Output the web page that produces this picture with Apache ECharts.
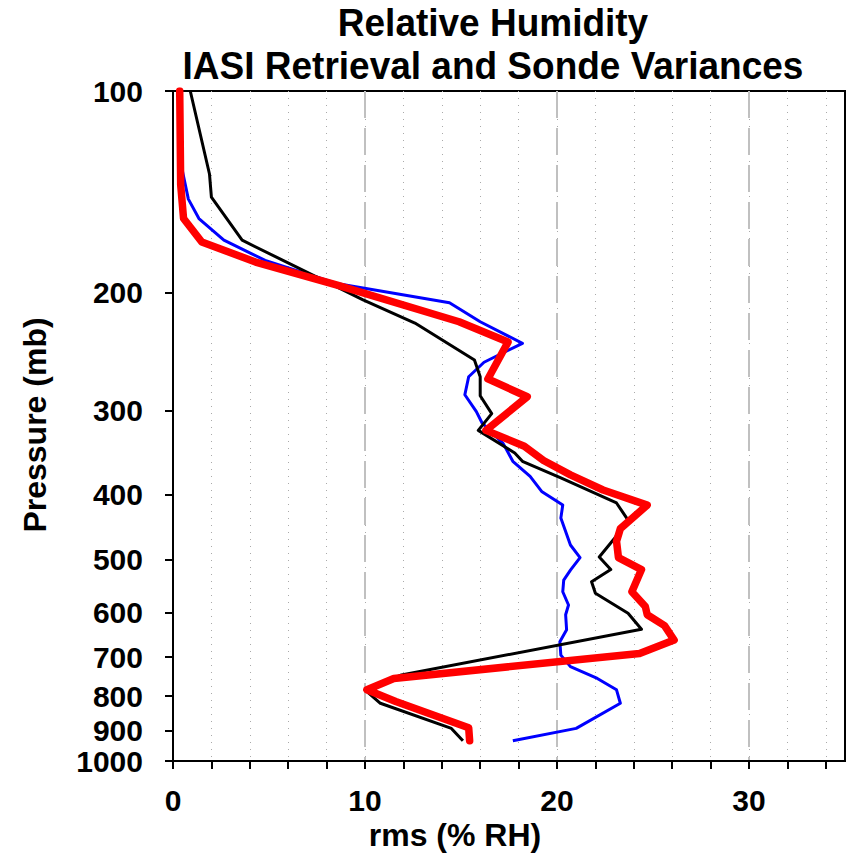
<!DOCTYPE html>
<html>
<head>
<meta charset="utf-8">
<script src="https://cdn.jsdelivr.net/npm/echarts@6/dist/echarts.min.js"></script>
<style>
html,body{margin:0;padding:0;background:#fff;}
#chart{width:850px;height:859px;}
</style>
</head>
<body>
<div id="chart"></div>
<script>
// ---- data (rms % RH vs pressure, mb) ----
const blackP = [100, 133, 144, 167, 205, 222, 252, 267, 285, 303, 321, 347, 357, 378, 412, 437, 465, 496, 518, 540, 562, 602, 636, 744, 783, 820, 894, 933];
const blackV = [0.9, 1.9, 2.0, 3.6, 9.9, 12.6, 15.7, 16.0, 16.0, 16.6, 15.9, 17.8, 18.2, 20.2, 23.1, 23.7, 23.0, 22.2, 22.8, 21.8, 22.0, 23.7, 24.4, 11.9, 10.0, 10.8, 14.5, 15.1];

const blueP = [100, 132, 145, 155, 167, 179, 194, 207, 221, 238, 254, 267, 284, 301, 313, 336, 357, 376, 396, 415, 434, 476, 497, 519, 537, 559, 585, 605, 637, 664, 695, 723, 753, 783, 820, 894, 933];
const blueV = [0.3, 0.5, 0.8, 1.35, 2.65, 4.8, 8.6, 14.4, 16.0, 18.2, 16.2, 15.4, 15.2, 15.8, 16.1, 17.2, 17.7, 18.6, 19.2, 20.3, 20.2, 20.7, 21.2, 20.7, 20.35, 20.3, 20.6, 20.45, 20.5, 20.15, 20.2, 20.7, 22.1, 23.1, 23.3, 21.0, 17.7];

const redP = [100, 138, 155, 168, 180, 195, 221, 237, 269, 286, 321, 339, 356, 374, 394, 415, 450, 470, 497, 518, 559, 588, 605, 628, 660, 691, 753, 783, 815, 892, 933];
const redV = [0.35, 0.4, 0.55, 1.5, 4.3, 8.6, 14.9, 17.45, 16.4, 18.45, 16.3, 18.3, 19.3, 20.7, 22.4, 24.7, 23.3, 23.1, 23.2, 24.4, 23.9, 24.6, 24.7, 25.6, 26.1, 24.3, 11.5, 10.1, 11.6, 15.4, 15.45];

const pressureTicks = [100, 200, 300, 400, 500, 600, 700, 800, 900, 1000];
const rmsLabels = [0, 10, 20, 30];
const rmsMinorTicks = [0, 2, 4, 6, 8, 10, 12, 14, 16, 18, 20, 22, 24, 26, 28, 30, 32, 34];
const rmsMajorLines = [10, 20, 30];

const titleLines = ['Relative Humidity', 'IASI Retrieval and Sonde Variances'];
const xName = 'rms (% RH)';
const yName = 'Pressure (mb)';

function pairs(v, p) { return v.map((x, i) => [x, p[i]]); }

const FONT = "'Liberation Sans', Arial, Helvetica, sans-serif";
const chart = echarts.init(document.getElementById('chart'), null, {renderer: 'svg'});

chart.setOption({
  animation: false,
  backgroundColor: '#fff',
  grid: {left: 173, top: 91, width: 672, height: 670, show: true, borderColor: '#000', borderWidth: 2, backgroundColor: 'transparent'},
  graphic: [
    {type: 'text', x: 493, y: 22.5, scaleY: 1.04, style: {text: titleLines[0], x: 0, y: 0, textAlign: 'center', textVerticalAlign: 'middle', font: 'bold 37px ' + FONT, fill: '#000'}},
    {type: 'text', x: 493, y: 65.5, scaleY: 1.04, style: {text: titleLines[1], x: 0, y: 0, textAlign: 'center', textVerticalAlign: 'middle', font: 'bold 37px ' + FONT, fill: '#000'}},
    {type: 'text', x: 455, y: 835, style: {text: xName, x: 0, y: 0, textAlign: 'center', textVerticalAlign: 'middle', font: 'bold 32px ' + FONT, fill: '#000'}},
    {type: 'text', rotation: Math.PI / 2, x: 35, y: 425, style: {text: yName, x: 0, y: 0, textAlign: 'center', textVerticalAlign: 'middle', font: 'bold 32px ' + FONT, fill: '#000'}}
  ],
  xAxis: [
    {
      type: 'value', min: 0, max: 35, position: 'bottom',
      axisLine: {show: true, onZero: false, lineStyle: {color: '#000', width: 2}},
      axisTick: {show: true, length: 8, customValues: rmsMinorTicks, lineStyle: {color: '#000', width: 2}},
      axisLabel: {show: true, customValues: rmsLabels, margin: 24, fontSize: 30, fontWeight: 'bold', fontFamily: FONT, color: '#000'},
      splitLine: {show: true, lineStyle: {color: '#aaaaaa', width: 1, type: [1, 6]}}
    },
    {
      type: 'value', min: 0, max: 35, position: 'bottom',
      axisLine: {show: false},
      axisTick: {show: false, customValues: rmsMajorLines},
      axisLabel: {show: false},
      splitLine: {show: true, lineStyle: {color: '#c0c0c0', width: 2, type: [27, 10]}}
    }
  ],
  yAxis: {
    type: 'log', logBase: 10, min: 100, max: 1000, inverse: true,
    axisLine: {show: true, onZero: false, lineStyle: {color: '#000', width: 2}},
    axisTick: {show: true, length: 8, customValues: pressureTicks, lineStyle: {color: '#000', width: 2}},
    axisLabel: {show: true, customValues: pressureTicks, margin: 30, fontSize: 30, fontWeight: 'bold', fontFamily: FONT, color: '#000', formatter: function (v) { return String(Math.round(v)); }},
    splitLine: {show: false}
  },
  series: [
    {type: 'line', name: 'blue', data: pairs(blueV, blueP), showSymbol: false, symbol: 'none', lineStyle: {color: '#0000ff', width: 3, join: 'round'}, z: 3},
    {type: 'line', name: 'black', data: pairs(blackV, blackP), showSymbol: false, symbol: 'none', lineStyle: {color: '#000000', width: 3, join: 'round'}, z: 4},
    {type: 'line', name: 'red', data: pairs(redV, redP), showSymbol: false, symbol: 'none', lineStyle: {color: '#ff0000', width: 7.5, join: 'round', cap: 'round'}, z: 5}
  ]
});
</script>
</body>
</html>
